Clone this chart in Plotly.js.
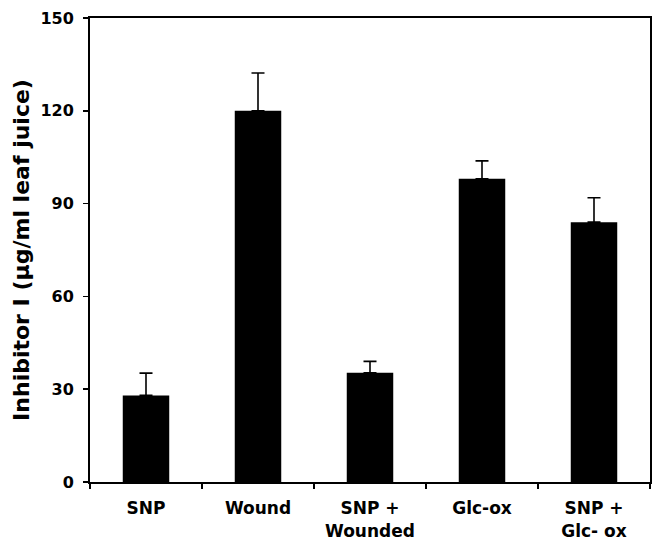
<!DOCTYPE html>
<html>
<head>
<meta charset="utf-8">
<script src="https://cdn.plot.ly/plotly-3.0.1.min.js"></script>
<style>html,body{margin:0;padding:0;background:#fff}#chart{width:652px;height:547px}</style>
</head>
<body>
<div id="chart"></div>
<script>
var categories = ["SNP", "Wound", "SNP +<br>Wounded", "Glc-ox", "SNP +<br>Glc- ox"];
var inhibitorValues = [28, 120, 35.3, 98, 84];
var inhibitorErrors = [7.2, 12.2, 3.7, 5.8, 7.9];
var yTickValues = [0, 30, 60, 90, 120, 150];

var FONT = "DejaVu Sans, Liberation Sans, Arial, sans-serif";

var trace = {
  type: "bar",
  x: categories,
  y: inhibitorValues,
  marker: {color: "#000000", line: {width: 0}},
  error_y: {
    type: "data",
    array: inhibitorErrors,
    arrayminus: inhibitorValues.map(function(){return 0;}),
    symmetric: false,
    color: "#000000",
    thickness: 1.6,
    width: 6.5
  },
  hoverinfo: "none"
};

var layout = {
  width: 652,
  height: 547,
  margin: {l: 90, r: 2, t: 18, b: 65},
  paper_bgcolor: "#ffffff",
  plot_bgcolor: "#ffffff",
  showlegend: false,
  bargap: 0.585,
  font: {family: FONT, color: "#000000"},
  xaxis: {
    type: "category",
    showgrid: false,
    zeroline: false,
    showline: true,
    linecolor: "#000000",
    linewidth: 2,
    mirror: true,
    ticks: "outside",
    tickson: "boundaries",
    ticklen: 5,
    tickwidth: 1.5,
    tickcolor: "#000000",
    ticklabelstandoff: 10,
    tickfont: {family: FONT, size: 17, color: "#000000", weight: "bold"}
  },
  yaxis: {
    range: [0, 150],
    tickvals: yTickValues,
    ticktext: yTickValues.map(String),
    showgrid: false,
    zeroline: false,
    showline: true,
    linecolor: "#000000",
    linewidth: 2,
    mirror: true,
    ticks: "outside",
    ticklen: 5,
    tickwidth: 1.5,
    tickcolor: "#000000",
    ticklabelstandoff: 6,
    tickfont: {family: FONT, size: 16, color: "#000000", weight: "bold"},
    title: {
      text: "Inhibitor I (µg/ml leaf juice)",
      font: {family: FONT, size: 22, color: "#000000", weight: "bold"},
      standoff: 5
    }
  }
};

Plotly.newPlot("chart", [trace], layout, {displayModeBar: false, staticPlot: true});
</script>
</body>
</html>
